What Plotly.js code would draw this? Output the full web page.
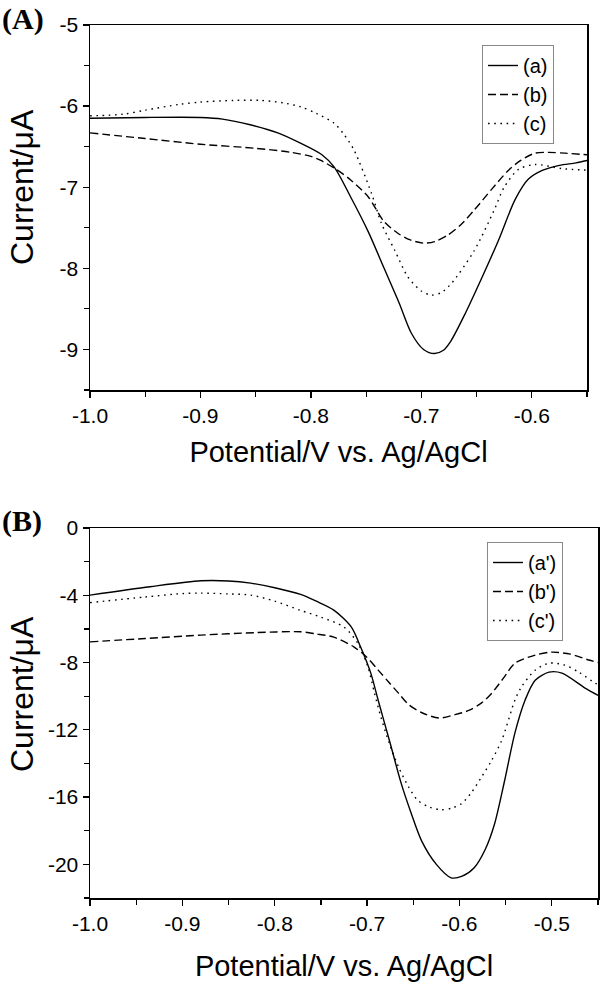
<!DOCTYPE html>
<html>
<head>
<meta charset="utf-8">
<script src="https://cdn.plot.ly/plotly-3.0.1.min.js"></script>
<style>html,body{margin:0;padding:0;background:#fff;}#chart{width:600px;height:982px;}</style>
</head>
<body>
<div id="chart"></div>
<script>
// ---------- Panel A data ----------
const xA_a = [-1.0,-0.95,-0.90,-0.88,-0.855,-0.83,-0.809,-0.79,-0.779,-0.764,-0.748,-0.734,-0.72,-0.709,-0.698,-0.688,-0.68,-0.673,-0.66,-0.645,-0.63,-0.615,-0.603,-0.59,-0.575,-0.56,-0.55];
const yA_a = [-6.15,-6.14,-6.14,-6.16,-6.23,-6.33,-6.46,-6.60,-6.75,-7.12,-7.55,-7.99,-8.43,-8.80,-9.00,-9.05,-9.01,-8.89,-8.55,-8.11,-7.65,-7.15,-6.90,-6.79,-6.73,-6.70,-6.67];

const xA_b = [-1.0,-0.95,-0.90,-0.85,-0.818,-0.80,-0.791,-0.777,-0.764,-0.748,-0.734,-0.721,-0.71,-0.698,-0.688,-0.676,-0.664,-0.652,-0.636,-0.621,-0.61,-0.597,-0.585,-0.57,-0.55];
const yA_b = [-6.33,-6.40,-6.47,-6.52,-6.57,-6.62,-6.67,-6.78,-6.91,-7.12,-7.42,-7.57,-7.65,-7.69,-7.67,-7.59,-7.46,-7.28,-7.02,-6.79,-6.67,-6.58,-6.57,-6.58,-6.60];

const xA_c = [-1.0,-0.97,-0.95,-0.92,-0.90,-0.87,-0.845,-0.825,-0.809,-0.795,-0.779,-0.77,-0.761,-0.745,-0.736,-0.724,-0.712,-0.70,-0.691,-0.682,-0.673,-0.652,-0.634,-0.625,-0.612,-0.597,-0.573,-0.55];
const yA_c = [-6.12,-6.10,-6.05,-5.98,-5.95,-5.93,-5.93,-5.96,-6.01,-6.09,-6.21,-6.35,-6.54,-7.08,-7.45,-7.78,-8.11,-8.28,-8.33,-8.30,-8.19,-7.78,-7.28,-7.00,-6.78,-6.72,-6.77,-6.79];

// ---------- Panel B data ----------
const xB_a = [-1.0,-0.935,-0.88,-0.85,-0.826,-0.80,-0.772,-0.755,-0.736,-0.717,-0.707,-0.696,-0.688,-0.675,-0.663,-0.652,-0.641,-0.625,-0.609,-0.597,-0.584,-0.572,-0.562,-0.551,-0.540,-0.529,-0.518,-0.503,-0.489,-0.464,-0.45];
const yB_a = [-3.99,-3.49,-3.14,-3.15,-3.28,-3.55,-3.95,-4.35,-4.88,-5.89,-7.08,-8.63,-10.24,-12.8,-15.2,-17.0,-18.6,-20.0,-20.8,-20.7,-20.2,-19.1,-17.6,-15.0,-12.2,-10.24,-9.05,-8.57,-8.63,-9.52,-9.95];

const xB_b = [-1.0,-0.94,-0.88,-0.82,-0.772,-0.755,-0.736,-0.714,-0.70,-0.688,-0.676,-0.666,-0.655,-0.64,-0.622,-0.605,-0.59,-0.576,-0.565,-0.552,-0.540,-0.518,-0.50,-0.48,-0.46,-0.45];
const yB_b = [-6.77,-6.57,-6.37,-6.22,-6.17,-6.30,-6.49,-7.08,-7.70,-8.45,-9.20,-9.82,-10.5,-11.0,-11.3,-11.1,-10.85,-10.4,-9.82,-8.90,-8.04,-7.56,-7.38,-7.50,-7.85,-8.00];

const xB_c = [-1.0,-0.94,-0.90,-0.88,-0.85,-0.826,-0.80,-0.772,-0.75,-0.725,-0.710,-0.699,-0.692,-0.685,-0.676,-0.666,-0.655,-0.645,-0.632,-0.620,-0.608,-0.598,-0.588,-0.576,-0.565,-0.554,-0.540,-0.533,-0.518,-0.503,-0.486,-0.47,-0.453,-0.45];
const yB_c = [-4.44,-4.10,-3.90,-3.87,-3.92,-3.99,-4.35,-4.90,-5.30,-5.89,-6.85,-8.27,-9.82,-11.25,-12.8,-14.2,-15.4,-16.2,-16.6,-16.75,-16.65,-16.4,-15.8,-14.8,-13.8,-12.6,-10.24,-9.46,-8.45,-8.04,-8.15,-8.60,-9.23,-9.30];

// ---------- labels / ticks ----------
const namesA = ["(a)", "(b)", "(c)"];
const namesB = ["(a')", "(b')", "(c')"];
const panelLabels = ["(A)", "(B)"];
const xTitle = "Potential/V vs. Ag/AgCl";
const yTitle = "Current/\u03bcA";
const xTickValsA = [-1.0,-0.9,-0.8,-0.7,-0.6];
const xTickTextA = ["-1.0","-0.9","-0.8","-0.7","-0.6"];
const yTickValsA = [-9,-8,-7,-6,-5];
const yTickTextA = ["-9","-8","-7","-6","-5"];
const xTickValsB = [-1.0,-0.9,-0.8,-0.7,-0.6,-0.5];
const xTickTextB = ["-1.0","-0.9","-0.8","-0.7","-0.6","-0.5"];
const yTickValsB = [-20,-16,-12,-8,-4,0];
const yTickTextB = ["-20","-16","-12","-8","-4","0"];

const FONT = "Arial, 'Liberation Sans', sans-serif";
const SERIF = "'Times New Roman', 'Liberation Serif', serif";
const dashes = ["solid", "8px,4px", "1.6px,4.6px"];

function mk(x, y, name, i, xa, ya, leg) {
  return {
    x: x, y: y, name: name, mode: "lines", type: "scatter",
    xaxis: xa, yaxis: ya, legend: leg,
    line: {color: "#000", width: 1.4, dash: dashes[i], shape: "spline", smoothing: 0.8},
    hoverinfo: "skip"
  };
}

const data = [
  mk(xA_a, yA_a, namesA[0], 0, "x", "y", "legend"),
  mk(xA_b, yA_b, namesA[1], 1, "x", "y", "legend"),
  mk(xA_c, yA_c, namesA[2], 2, "x", "y", "legend"),
  mk(xB_a, yB_a, namesB[0], 0, "x2", "y2", "legend2"),
  mk(xB_b, yB_b, namesB[1], 1, "x2", "y2", "legend2"),
  mk(xB_c, yB_c, namesB[2], 2, "x2", "y2", "legend2")
];

function axisBase(extra) {
  return Object.assign({
    showline: true, linecolor: "#000", linewidth: 1.5, mirror: true,
    ticks: "outside", ticklen: 6, tickwidth: 1.3, tickcolor: "#000",
    showgrid: false, zeroline: false,
    tickfont: {family: FONT, size: 21, color: "#000"},
    automargin: false
  }, extra);
}

const H = 982;
const XT = {family: FONT, size: 29, color: "#000"};
const YT = {family: FONT, size: 32, color: "#000"};
const minorX = {ticks: "outside", ticklen: 5, tickwidth: 1.2, tickcolor: "#000", dtick: 0.05, tick0: -1.0, showgrid: false};

function ann(text, x, y, font, angle) {
  return {text: text, xref: "paper", yref: "paper", x: x, y: y,
          xanchor: "center", yanchor: "middle", showarrow: false,
          textangle: angle || 0, font: font};
}

const layout = {
  width: 600, height: 982,
  margin: {l: 0, r: 0, t: 0, b: 0},
  paper_bgcolor: "#fff", plot_bgcolor: "#fff",
  font: {family: FONT, color: "#000"},
  showlegend: true,
  xaxis: axisBase({
    domain: [90/600, 587/600], range: [-1.0, -0.55], anchor: "y",
    tickmode: "array", tickvals: xTickValsA, ticktext: xTickTextA,
    minor: minorX,
    title: {text: xTitle, font: XT, standoff: 16}
  }),
  yaxis: axisBase({
    domain: [1 - 390/H, 1 - 25/H], range: [-9.5, -5], anchor: "x",
    tickmode: "array", tickvals: yTickValsA, ticktext: yTickTextA,
    minor: {ticks: "outside", ticklen: 5, tickwidth: 1.2, tickcolor: "#000", dtick: 0.5, tick0: -5, showgrid: false}
  }),
  xaxis2: axisBase({
    domain: [90/600, 598/600], range: [-1.0, -0.45], anchor: "y2",
    tickmode: "array", tickvals: xTickValsB, ticktext: xTickTextB,
    minor: minorX,
    title: {text: xTitle, font: XT, standoff: 22}
  }),
  yaxis2: axisBase({
    domain: [1 - 898/H, 1 - 528/H], range: [-22, 0], anchor: "x2",
    tickmode: "array", tickvals: yTickValsB, ticktext: yTickTextB,
    minor: {ticks: "outside", ticklen: 5, tickwidth: 1.2, tickcolor: "#000", dtick: 2, tick0: 0, showgrid: false}
  }),
  legend: {
    x: 482/600, y: 1 - 45/H, xanchor: "left", yanchor: "top",
    bgcolor: "rgba(255,255,255,0)", bordercolor: "#888", borderwidth: 1,
    font: {family: FONT, size: 20, color: "#000"}, tracegroupgap: 0
  },
  legend2: {
    x: 487/600, y: 1 - 542/H, xanchor: "left", yanchor: "top",
    bgcolor: "rgba(255,255,255,0)", bordercolor: "#888", borderwidth: 1,
    font: {family: FONT, size: 20, color: "#000"}, tracegroupgap: 0
  },
  annotations: [
    ann(yTitle, 22/600, 1 - 187/H, YT, -90),
    ann(yTitle, 22/600, 1 - 694/H, YT, -90),
    Object.assign(ann("<b>" + panelLabels[0] + "</b>", 0, 1 - 19/H, {family: SERIF, size: 30, color: "#000"}), {xanchor: "left"}),
    Object.assign(ann("<b>" + panelLabels[1] + "</b>", 0, 1 - 521/H, {family: SERIF, size: 30, color: "#000"}), {xanchor: "left"})
  ]
};

Plotly.newPlot("chart", data, layout, {staticPlot: true, displayModeBar: false});
</script>
</body>
</html>
